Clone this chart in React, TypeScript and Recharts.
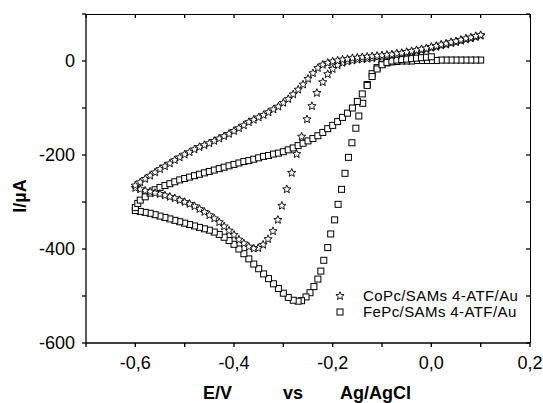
import { ScatterChart, Scatter, XAxis, YAxis, Legend } from 'recharts'

// cyclic voltammograms, E in V vs Ag/AgCl, I in µA
// CoPc: cathodic sweep 0.1 -> -0.6, then anodic -0.6 -> 0.1
const coPcCathodic: [number, number][] = [
  [0.1, 54], [0.09, 51], [0.08, 48], [0.07, 46], [0.06, 43], [0.05, 40], [0.04, 38], [0.03, 35],
  [0.02, 33], [0.01, 30], [0, 28], [-0.01, 25], [-0.02, 23], [-0.03, 21], [-0.04, 19], [-0.05, 17],
  [-0.06, 15], [-0.07, 13], [-0.08, 12], [-0.09, 10], [-0.1, 9], [-0.11, 8], [-0.12, 6], [-0.13, 5],
  [-0.14, 4], [-0.15, 3], [-0.16, 1], [-0.17, -1], [-0.18, -4], [-0.19, -9], [-0.2, -17], [-0.21, -28],
  [-0.22, -45], [-0.232, -68], [-0.242, -96], [-0.252, -124], [-0.263, -161], [-0.273, -198],
  [-0.283, -238], [-0.293, -273], [-0.303, -308], [-0.311, -338], [-0.321, -362], [-0.331, -379],
  [-0.341, -391], [-0.351, -398], [-0.36, -399], [-0.37, -395], [-0.38, -388], [-0.39, -380],
  [-0.4, -370], [-0.41, -361], [-0.42, -352], [-0.43, -343], [-0.44, -335], [-0.45, -328],
  [-0.46, -321], [-0.47, -315], [-0.48, -309], [-0.49, -304], [-0.5, -300], [-0.51, -296],
  [-0.52, -292], [-0.53, -289], [-0.54, -286], [-0.55, -283], [-0.56, -281], [-0.57, -278],
  [-0.58, -276], [-0.59, -273], [-0.6, -270],
]
const coPcAnodic: [number, number][] = [
  [-0.6, -265], [-0.59, -258], [-0.58, -251], [-0.57, -244], [-0.56, -237], [-0.55, -230],
  [-0.54, -224], [-0.53, -218], [-0.52, -211], [-0.51, -205], [-0.5, -199], [-0.49, -194],
  [-0.48, -188], [-0.47, -183], [-0.46, -179], [-0.45, -175], [-0.44, -170], [-0.43, -165],
  [-0.42, -160], [-0.41, -155], [-0.4, -149], [-0.39, -143], [-0.38, -137], [-0.37, -130],
  [-0.36, -125], [-0.35, -120], [-0.34, -115], [-0.33, -109], [-0.32, -103], [-0.31, -97],
  [-0.3, -89], [-0.29, -81], [-0.28, -71], [-0.27, -61], [-0.26, -50], [-0.25, -38], [-0.24, -26],
  [-0.23, -15], [-0.22, -8], [-0.21, -4], [-0.2, -1], [-0.19, 1], [-0.18, 3], [-0.17, 4], [-0.16, 6],
  [-0.15, 7], [-0.14, 8], [-0.13, 9], [-0.12, 10], [-0.11, 11], [-0.1, 12], [-0.09, 13], [-0.08, 14],
  [-0.07, 16], [-0.06, 17], [-0.05, 19], [-0.04, 21], [-0.03, 23], [-0.02, 25], [-0.01, 27], [0, 30],
  [0.01, 32], [0.02, 35], [0.03, 37], [0.04, 40], [0.05, 42], [0.06, 45], [0.07, 48], [0.08, 50],
  [0.09, 53], [0.1, 55],
]

// FePc
const fePcCathodic: [number, number][] = [
  [0.1, 2], [0.09, 2], [0.08, 2], [0.07, 2], [0.06, 2], [0.05, 2], [0.04, 2], [0.03, 2], [0.02, 2],
  [0.01, 1], [0, 1], [-0.01, 1], [-0.02, 1], [-0.03, 1], [-0.04, 0], [-0.05, 0], [-0.06, 0],
  [-0.07, -1], [-0.08, -2], [-0.09, -4], [-0.1, -7], [-0.11, -14], [-0.12, -27], [-0.13, -50],
  [-0.139, -90], [-0.147, -117], [-0.153, -143], [-0.161, -174], [-0.168, -205], [-0.175, -239],
  [-0.182, -273], [-0.189, -305], [-0.196, -338], [-0.204, -368], [-0.21, -397], [-0.218, -424],
  [-0.224, -447], [-0.23, -464], [-0.238, -480], [-0.246, -493], [-0.254, -502], [-0.263, -510],
  [-0.27, -511], [-0.28, -509], [-0.29, -503], [-0.3, -494], [-0.31, -484], [-0.32, -474],
  [-0.33, -463], [-0.34, -453], [-0.35, -442], [-0.36, -432], [-0.37, -421], [-0.38, -410],
  [-0.39, -400], [-0.4, -390], [-0.41, -382], [-0.42, -375], [-0.43, -369], [-0.44, -364],
  [-0.45, -360], [-0.46, -357], [-0.47, -354], [-0.48, -351], [-0.49, -348], [-0.5, -345],
  [-0.51, -342], [-0.52, -339], [-0.53, -336], [-0.54, -333], [-0.55, -330], [-0.56, -327],
  [-0.57, -324], [-0.58, -322], [-0.59, -320], [-0.6, -318],
]
const fePcAnodic: [number, number][] = [
  [-0.6, -312], [-0.595, -303], [-0.59, -296], [-0.58, -289], [-0.57, -281], [-0.56, -274],
  [-0.55, -269], [-0.54, -265], [-0.53, -261], [-0.52, -257], [-0.51, -253], [-0.5, -250],
  [-0.49, -247], [-0.48, -244], [-0.47, -241], [-0.46, -238], [-0.45, -235], [-0.44, -232],
  [-0.43, -229], [-0.42, -226], [-0.41, -223], [-0.4, -220], [-0.39, -217], [-0.38, -214],
  [-0.37, -212], [-0.36, -209], [-0.35, -206], [-0.34, -203], [-0.33, -201], [-0.32, -198],
  [-0.31, -196], [-0.3, -193], [-0.29, -189], [-0.28, -185], [-0.27, -180], [-0.26, -175],
  [-0.25, -170], [-0.24, -165], [-0.23, -159], [-0.22, -152], [-0.21, -144], [-0.2, -137],
  [-0.19, -129], [-0.18, -120], [-0.17, -111], [-0.16, -100], [-0.15, -86], [-0.14, -70],
  [-0.13, -52], [-0.12, -33], [-0.11, -17], [-0.1, -8], [-0.09, -3], [-0.08, 0], [-0.07, 2],
  [-0.06, 3], [-0.05, 4], [-0.04, 5], [-0.03, 6], [-0.02, 7], [-0.01, 8], [0, 9],
]

const eTicks = [-0.7, -0.6, -0.5, -0.4, -0.3, -0.2, -0.1, 0, 0.1, 0.2]
const eLabeled = [-0.6, -0.4, -0.2, 0, 0.2]
const iTicks = [-600, -500, -400, -300, -200, -100, 0, 100]
const iLabeled = [-600, -400, -200, 0]

const seriesNames = ['CoPc/SAMs 4-ATF/Au', 'FePc/SAMs 4-ATF/Au']

const W = 543
const H = 403
const MARGIN = { top: 14, right: 13, left: 0, bottom: 0 }
const Y_AXIS_W = 86
const X_AXIS_H = 60
const PLOT_TOP = MARGIN.top
const PLOT_LEFT = MARGIN.left + Y_AXIS_W
const PLOT_RIGHT = W - MARGIN.right
const PLOT_BOTTOM = H - MARGIN.bottom - X_AXIS_H
const TICK_LEN = 4
const LINE_W = 1.3
const FONT = 'Arial, "Liberation Sans", sans-serif'

const toRows = (pts: [number, number][]) => pts.map(([E, I]) => ({ E, I }))
const coPcData = toRows([...coPcCathodic, ...coPcAnodic])
const fePcData = toRows([...fePcCathodic, ...fePcAnodic])

function starPath(cx: number, cy: number, ro: number, ri: number) {
  let d = ''
  for (let k = 0; k < 10; k++) {
    const r = k % 2 === 0 ? ro : ri
    const a = -Math.PI / 2 + (k * Math.PI) / 5
    d += (k === 0 ? 'M' : 'L') + (cx + r * Math.cos(a)).toFixed(2) + ',' + (cy + r * Math.sin(a)).toFixed(2)
  }
  return d + 'Z'
}

const StarMark = (props: any) => (
  <path d={starPath(props.cx, props.cy, 4.3, 1.9)} fill="#fff" stroke="#000" strokeWidth={0.9} />
)
const SquareMark = (props: any) => (
  <rect x={props.cx - 3} y={props.cy - 3} width={6} height={6} fill="#fff" stroke="#000" strokeWidth={1} />
)

const fmtE = (v: number) =>
  eLabeled.some((t) => Math.abs(t - v) < 1e-6) ? v.toFixed(1).replace('.', ',') : ''
const fmtI = (v: number) => (iLabeled.includes(v) ? String(v) : '')

// bottom tick label + the matching inward tick on the top edge
const ETick = (p: any) => (
  <g>
    <line x1={p.x} x2={p.x} y1={PLOT_TOP} y2={PLOT_TOP + TICK_LEN} stroke="#000" strokeWidth={LINE_W} />
    <text x={p.x} y={p.y} dy="0.71em" textAnchor="middle" fontFamily={FONT} fontSize={18} fill="#000">
      {fmtE(p.payload.value)}
    </text>
  </g>
)

// left tick label + the matching inward tick on the right edge
const ITick = (p: any) => (
  <g>
    <line x1={PLOT_RIGHT - TICK_LEN} x2={PLOT_RIGHT} y1={p.y} y2={p.y} stroke="#000" strokeWidth={LINE_W} />
    <text x={p.x} y={p.y} dy="0.355em" textAnchor="end" fontFamily={FONT} fontSize={18} fill="#000">
      {fmtI(p.payload.value)}
    </text>
  </g>
)

const YTitle = () => (
  <text
    x={20}
    y={196}
    transform="rotate(-90 20 196)"
    textAnchor="middle"
    dominantBaseline="central"
    fontFamily={FONT}
    fontWeight="bold"
    fontSize={18}
    fill="#000"
  >
    I/µA
  </text>
)

const XTitle = () => (
  <g fontFamily={FONT} fontWeight="bold" fontSize={18} fill="#000">
    <text x={203} y={399}>E/V</text>
    <text x={283} y={399}>vs</text>
    <text x={340} y={399}>Ag/AgCl</text>
  </g>
)

const LegendBox = () => (
  <div style={{ fontFamily: FONT, fontSize: 15, letterSpacing: 0.4, color: '#000', lineHeight: '16px' }}>
    {seriesNames.map((name, i) => (
      <div key={name} style={{ display: 'flex', alignItems: 'center', height: 16 }}>
        <svg width={14} height={14} style={{ flex: 'none' }}>
          {i === 0 ? <StarMark cx={7} cy={7} /> : <SquareMark cx={7} cy={7} />}
        </svg>
        <span style={{ marginLeft: 16, whiteSpace: 'nowrap' }}>{name}</span>
      </div>
    ))}
  </div>
)

export default function App() {
  const axisStroke = { stroke: '#000', strokeWidth: LINE_W }
  return (
    <div style={{ position: 'absolute', left: 0, top: 0, width: W, height: H, background: '#fff' }}>
      <ScatterChart width={W} height={H} margin={MARGIN}>
        <XAxis
          type="number"
          dataKey="E"
          domain={[-0.7, 0.2]}
          ticks={eTicks}
          interval={0}
          allowDataOverflow
          tick={ETick}
          tickSize={TICK_LEN}
          tickMargin={9}
          height={X_AXIS_H}
          axisLine={axisStroke}
          tickLine={axisStroke}
          label={<XTitle />}
        />
        <YAxis
          type="number"
          dataKey="I"
          domain={[-600, 100]}
          ticks={iTicks}
          interval={0}
          allowDataOverflow
          tick={ITick}
          tickSize={TICK_LEN}
          tickMargin={7}
          width={Y_AXIS_W}
          axisLine={axisStroke}
          tickLine={axisStroke}
          label={<YTitle />}
        />
        <Legend
          layout="vertical"
          align="center"
          verticalAlign="middle"
          content={<LegendBox />}
          wrapperStyle={{ left: 333, top: 288, width: 'auto', height: 'auto' }}
        />
        <Scatter name={seriesNames[1]} data={fePcData} shape={<SquareMark />} isAnimationActive={false} />
        <Scatter name={seriesNames[0]} data={coPcData} shape={<StarMark />} isAnimationActive={false} />
      </ScatterChart>
      {/* top and right edges of the plot frame */}
      <div
        style={{
          position: 'absolute',
          left: PLOT_LEFT,
          top: PLOT_TOP - 0.5,
          width: PLOT_RIGHT - PLOT_LEFT + 0.5,
          height: PLOT_BOTTOM - PLOT_TOP + 0.5,
          borderTop: '1.3px solid #000',
          borderRight: '1.3px solid #000',
          boxSizing: 'border-box',
          pointerEvents: 'none',
        }}
      />
    </div>
  )
}
